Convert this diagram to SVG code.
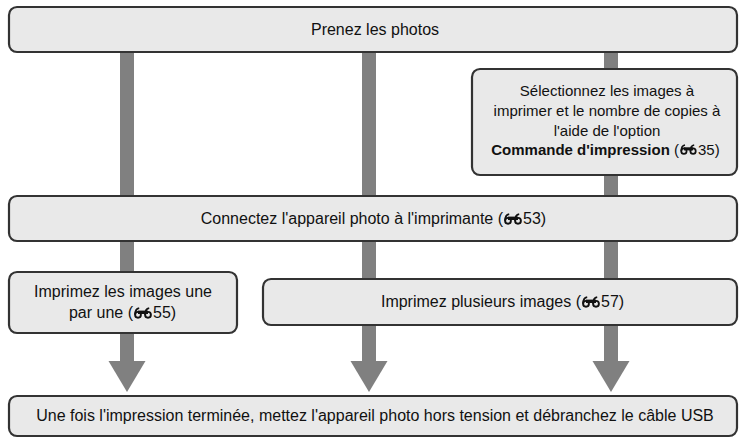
<svg xmlns="http://www.w3.org/2000/svg" width="741" height="440" viewBox="0 0 741 440">
<style>
.box{fill:#e9e9e9;stroke:#333;stroke-width:2.2}
.bar{fill:#808080}
.t{font-family:"Liberation Sans",Arial,sans-serif;font-size:16px;fill:#111}
.s{font-size:15px}
.b{font-weight:bold}
.ic{fill:none;stroke:#111;stroke-width:1.9}
</style>
<defs>
<symbol id="ref" viewBox="0 0 18 12" overflow="visible">
<circle class="ic" cx="4" cy="7.8" r="2.9"/>
<circle class="ic" cx="14" cy="7.8" r="2.9"/>
<path class="ic" d="M1.1,7.8 C1.1,4 2,1.6 5.2,1.1"/>
<path class="ic" d="M11.1,7.8 C11.1,4 12,1.6 15.2,1.1"/>
<rect x="4" y="3.6" width="10" height="3.4" fill="#111"/>
</symbol>
</defs>
<g id="connectors">
<rect class="bar" x="120" y="52" width="14" height="310"/>
<polygon class="bar" points="108.5,361 145.5,361 127,392"/>
<rect class="bar" x="362" y="52" width="14" height="310"/>
<polygon class="bar" points="350.5,361 387.5,361 369,392"/>
<rect class="bar" x="604" y="52" width="14" height="310"/>
<polygon class="bar" points="592.5,361 629.5,361 611,392"/>
</g>
<g id="n1">
<rect class="box" x="9" y="7" width="728" height="45" rx="8"/>
<text class="t" x="375" y="35" text-anchor="middle">Prenez les photos</text>
</g>
<g id="n2">
<rect class="box" x="472" y="69" width="265" height="106" rx="8"/>
<text class="t s" x="607" y="96" text-anchor="middle">Sélectionnez les images à</text>
<text class="t s" x="607" y="116" text-anchor="middle">imprimer et le nombre de copies à</text>
<text class="t s" x="607" y="136" text-anchor="middle">l'aide de l'option</text>
<text class="t s" x="679" y="155" text-anchor="end"><tspan class="b">Commande d'impression</tspan> (</text>
<use href="#ref" x="680" y="144" width="17" height="11"/>
<text class="t s" x="698" y="155">35)</text>
</g>
<g id="n3">
<rect class="box" x="9" y="196" width="728" height="45" rx="8"/>
<text class="t" x="503" y="224" text-anchor="end">Connectez l'appareil photo à l'imprimante (</text>
<use href="#ref" x="504" y="213" width="18" height="12"/>
<text class="t" x="523" y="224">53)</text>
</g>
<g id="n4">
<rect class="box" x="9" y="272" width="228" height="61" rx="8"/>
<text class="t" x="123" y="297" text-anchor="middle">Imprimez les images une</text>
<text class="t" x="133" y="318" text-anchor="end">par une (</text>
<use href="#ref" x="134" y="307" width="18" height="12"/>
<text class="t" x="153" y="318">55)</text>
</g>
<g id="n5">
<rect class="box" x="263" y="279" width="474" height="46" rx="8"/>
<text class="t" x="581" y="307" text-anchor="end">Imprimez plusieurs images (</text>
<use href="#ref" x="582" y="296" width="18" height="12"/>
<text class="t" x="601" y="307">57)</text>
</g>
<g id="n6">
<rect class="box" x="9" y="396" width="728" height="40" rx="8"/>
<text class="t" x="375" y="421" text-anchor="middle">Une fois l'impression terminée, mettez l'appareil photo hors tension et débranchez le câble USB</text>
</g>
</svg>
